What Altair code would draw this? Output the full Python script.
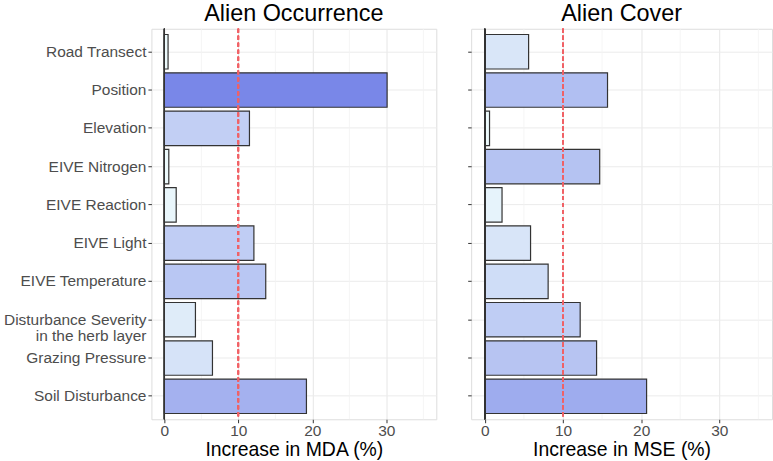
import altair as alt
import pandas as pd

variables = [
    "Road Transect",
    "Position",
    "Elevation",
    "EIVE Nitrogen",
    "EIVE Reaction",
    "EIVE Light",
    "EIVE Temperature",
    "Disturbance Severity\nin the herb layer",
    "Grazing Pressure",
    "Soil Disturbance",
]
mda = [0.5, 30.1, 11.5, 0.6, 1.6, 12.1, 13.7, 4.2, 6.5, 19.2]
mse = [5.6, 15.7, 0.6, 14.7, 2.2, 5.85, 8.1, 12.2, 14.3, 20.7]
major_ticks = [0, 10, 20, 30]
minor_grid = [5, 15, 25, 35]
threshold = 10
panel_titles = ["Alien Occurrence", "Alien Cover"]
x_titles = ["Increase in MDA (%)", "Increase in MSE (%)"]

FONT = "Liberation Sans"
xscale = alt.Scale(domain=[-1.75, 36.75], nice=False, zero=False)
color_scale = alt.Scale(domain=[0, max(mda)], range=["#effcfc", "#7987e8"], interpolate="rgb")


def panel(values, title, xtitle, width, show_labels):
    df = pd.DataFrame({"variable": variables, "value": values})
    if show_labels:
        yaxis = alt.Axis(
            title=None,
            labelExpr="split(datum.label, '\\n')",
            labelFontSize=15.5,
            labelColor="#4d4d4d",
            labelFont=FONT,
            labelPadding=2,
            labelLineHeight=16.5,
            tickColor="#333333",
            tickSize=3.5,
            domain=False,
            grid=True,
            gridColor="#ebebeb",
        )
    else:
        yaxis = alt.Axis(
            title=None,
            labels=False,
            tickColor="#333333",
            tickSize=3.5,
            domain=False,
            grid=True,
            gridColor="#ebebeb",
        )
    xaxis = alt.Axis(
        title=xtitle,
        values=major_ticks,
        labelFontSize=15.5,
        labelColor="#4d4d4d",
        labelFont=FONT,
        labelPadding=1,
        tickColor="#333333",
        tickSize=3.5,
        domain=False,
        grid=True,
        gridColor="#e6e6e6",
        titleFontSize=19.5,
        titleFontWeight="normal",
        titleColor="black",
        titleFont=FONT,
        titlePadding=1,
    )
    bars = alt.Chart(df).mark_bar(stroke="#333333", strokeWidth=1.2).encode(
        y=alt.Y("variable:N", sort=variables,
                scale=alt.Scale(paddingInner=0.1, paddingOuter=0.15), axis=yaxis),
        x=alt.X("value:Q", scale=xscale, axis=xaxis),
        x2=alt.datum(0),
        color=alt.Color("value:Q", scale=color_scale, legend=None),
    )
    minor = alt.Chart(pd.DataFrame({"v": minor_grid})).mark_rule(
        color="#f3f3f3", strokeWidth=0.8
    ).encode(x=alt.X("v:Q", scale=xscale, axis=xaxis))
    zero = alt.Chart(df).mark_rule(color="#333333", strokeWidth=1).encode(x=alt.datum(0))
    dashed = alt.Chart(df).mark_rule(
        color="#f06266", strokeWidth=1.4, strokeDash=[4, 3]
    ).encode(x=alt.datum(threshold))
    return alt.layer(minor, bars, zero, dashed).properties(
        width=width,
        height=392,
        title=alt.TitleParams(title, fontSize=23.5, fontWeight="normal", anchor="middle",
                              color="black", font=FONT, offset=3),
    )


left = panel(mda, panel_titles[0], x_titles[0], 286, True)
right = panel(mse, panel_titles[1], x_titles[1], 302, False)

chart = alt.hconcat(left, right, spacing=29).properties(
    padding={"left": 2, "top": 0, "right": 0, "bottom": 0}
).configure_view(stroke="#9a9a9a", strokeWidth=1).configure(font=FONT)

chart.save("out.html", embed_options={"renderer": "svg", "actions": False})
